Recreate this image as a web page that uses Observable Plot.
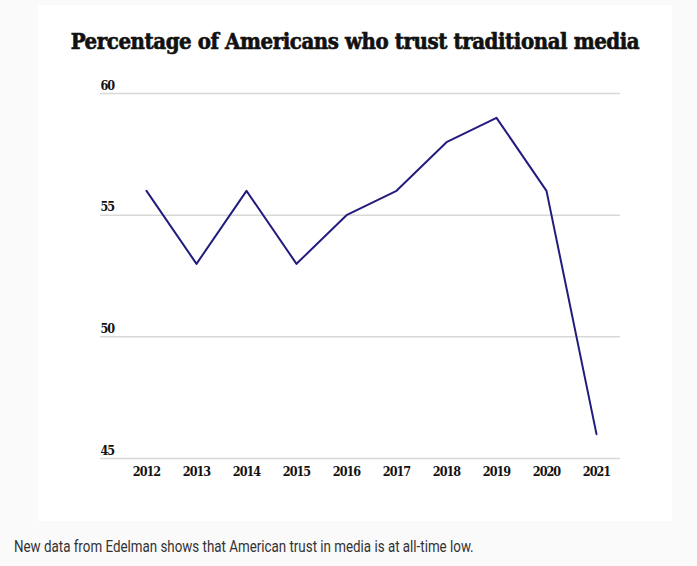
<!DOCTYPE html>
<html>
<head>
<meta charset="utf-8">
<script src="https://cdn.jsdelivr.net/npm/d3@7"></script>
<script src="https://cdn.jsdelivr.net/npm/@observablehq/plot@0.6"></script>
<style>
  html, body { margin: 0; padding: 0; background: #fafafa; width: 697px; height: 566px; overflow: hidden; }
  #card { position: absolute; left: 38px; top: 5px; width: 634px; height: 516px; background: #ffffff; }
  #title { position: absolute; left: 0; top: 23px; width: 634px; text-align: center; white-space: nowrap;
           font-family: "DejaVu Serif Condensed", "DejaVu Serif", serif; font-weight: 900; font-stretch: condensed;
           font-size: 22px; color: #111; letter-spacing: -0.42px; -webkit-text-stroke: 0.6px #111; }
  #chart { position: absolute; left: 0; top: 50px; }
  #caption { position: absolute; left: 14px; top: 537px; font-family: "Roboto", sans-serif;
             font-size: 16px; color: #333; transform-origin: 0 0; transform: scaleX(0.835); white-space: nowrap; }
</style>
</head>
<body>
<div id="card">
  <div id="title">Percentage of Americans who trust traditional media</div>
  <div id="chart"></div>
</div>
<div id="caption">New data from Edelman shows that American trust in media is at all-time low.</div>
<script>
const years = [2012, 2013, 2014, 2015, 2016, 2017, 2018, 2019, 2020, 2021];
const trust = [56, 53, 56, 53, 55, 56, 58, 59, 56, 46];
const yTicks = [45, 50, 55, 60];

const data = years.map((y, i) => ({year: String(y), value: trust[i]}));
const tickFont = '"DejaVu Serif Condensed", "DejaVu Serif", serif';

const chart = Plot.plot({
  width: 634,
  height: 425,
  marginLeft: 62,
  marginRight: 52,
  marginTop: 38,
  marginBottom: 22,
  style: { background: "transparent", fontFamily: tickFont, fontStretch: "condensed", fontSize: "12.5px",
           fontWeight: "bold", letterSpacing: "-1px", color: "#111" },
  x: { type: "point", domain: years.map(String), padding: 0, insetLeft: 45, insetRight: 23, label: null },
  y: { domain: [45, 60], ticks: yTicks, label: null },
  marks: [
    Plot.gridY(yTicks, { stroke: "#d8d8d8", strokeOpacity: 1, strokeWidth: 1.5 }),
    Plot.axisY(yTicks, { tickSize: 0, textAnchor: "start", dx: 0, dy: -8, tickPadding: 0, anchor: "left",
                          fontWeight: "bold", label: null }),
    Plot.axisX({ tickSize: 0, tickPadding: 9, label: null, fontWeight: "bold" }),
    Plot.line(data, { x: "year", y: "value", stroke: "#211c7d", strokeWidth: 2 })
  ]
});
document.getElementById("chart").appendChild(chart);
</script>
</body>
</html>
